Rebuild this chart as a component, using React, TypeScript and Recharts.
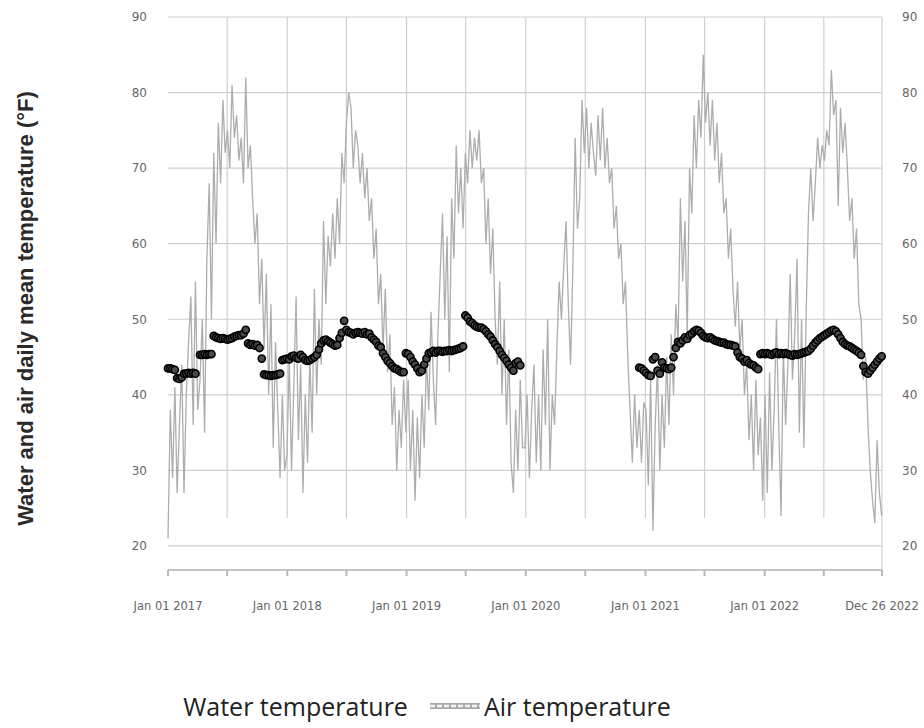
import { ComposedChart, Line, XAxis, YAxis, CartesianGrid, ReferenceLine, Legend } from "recharts"

// air temperature, one reading per week starting Jan 01 2017 (°F)
const air2017 = [21, 38, 29, 41, 27, 36, 44, 27, 40, 47, 53, 36, 55, 38, 42, 50, 35, 58, 68, 50, 72, 60, 76, 68, 79, 72, 75, 70, 81, 74, 77, 71, 74, 68, 82, 70, 73, 66, 60, 64, 52, 58, 46, 56, 40, 52, 33, 47, 38, 29, 40, 30]
const air2018 = [32, 45, 30, 41, 53, 34, 44, 27, 40, 31, 45, 35, 54, 40, 50, 44, 63, 52, 61, 57, 64, 58, 66, 60, 72, 68, 76, 80, 78, 70, 75, 73, 68, 72, 66, 70, 63, 66, 58, 62, 52, 56, 46, 54, 43, 48, 36, 41, 30, 38, 33, 42]
const air2019 = [35, 42, 30, 38, 26, 37, 29, 40, 33, 45, 38, 51, 42, 36, 48, 56, 64, 50, 61, 43, 66, 58, 73, 64, 70, 62, 72, 68, 75, 70, 74, 71, 75, 68, 70, 60, 66, 56, 62, 50, 44, 55, 40, 50, 36, 46, 31, 27, 38, 30, 42, 33]
const air2020 = [33, 40, 29, 38, 44, 31, 40, 30, 46, 36, 50, 30, 40, 36, 46, 55, 50, 57, 63, 52, 44, 57, 74, 62, 66, 79, 72, 78, 70, 76, 72, 69, 77, 71, 78, 70, 74, 68, 70, 62, 65, 58, 60, 52, 55, 45, 38, 31, 40, 33, 38, 31, 39]
const air2021 = [38, 28, 42, 22, 36, 44, 30, 40, 33, 45, 36, 48, 40, 52, 47, 66, 55, 63, 48, 70, 64, 77, 70, 79, 74, 85, 76, 80, 73, 79, 71, 76, 68, 72, 64, 66, 58, 62, 54, 49, 55, 46, 50, 40, 44, 34, 40, 30, 42, 32, 37, 26]
const air2022 = [40, 27, 43, 30, 38, 50, 36, 24, 46, 36, 44, 56, 42, 48, 58, 35, 50, 33, 51, 64, 70, 63, 68, 74, 70, 73, 71, 75, 73, 83, 77, 79, 65, 78, 72, 76, 70, 63, 66, 58, 62, 52, 50, 42, 45, 36, 30, 26, 23, 34, 27, 24]

// water temperature, weekly, two logging periods (week index of first value)
const waterAStartWeek = 0
const waterA = [
  43.5, 43.5, 43.4, 43.3, 42.2, 42.1, 42.3, 42.8, 42.8, 42.9,
  42.8, 42.9, 42.8, null, 45.3, 45.3, 45.4, 45.3, 45.4, 45.4,
  47.8, 47.6, 47.5, 47.4, 47.5, 47.4, 47.3, 47.4, 47.5, 47.7,
  47.8, 47.9, 47.9, 48.1, 48.6, 46.8, 46.6, 46.7, 46.5, 46.6,
  46.2, 44.8, 42.7, 42.6, 42.6, 42.5, 42.6, 42.6, 42.7, 42.8,
  44.6, 44.7, 44.8, 44.7, 45.1, 45.2, 44.9, 44.8, 45.3, 45.0,
  44.6, 44.5, 44.6, 44.8, 45.0, 45.3, 46.0, 46.8, 47.2, 47.3,
  47.1, 46.9, 46.7, 46.5, 46.6, 47.5, 48.2, 49.8, 48.6, 48.3,
  48.2, 48.0, 48.2, 48.3, 48.2, 48.1, 48.3, 48.0, 48.1, 47.6,
  47.3, 47.0, 46.5, 46.3, 45.5, 45.0, 44.5, 44.2, 43.8, 43.5,
  43.4, 43.2, 43.0, 43.0, 45.5, 45.4, 45.0, 44.4, 44.0, 43.5,
  43.0, 43.2, 44.0, 44.8, 45.5, 45.6, 45.8, 45.6, 45.8, 45.8,
  45.7, 45.8, 45.8, 45.9, 45.8, 45.9, 46.0, 46.1, 46.2, 46.4,
  50.5, 50.2, 49.7, 49.5, 49.2, 49.0, 48.9, 48.9, 48.7, 48.4,
  48.0, 47.7, 47.2, 46.7, 46.3, 45.8, 45.3, 44.9, 44.5, 44.0,
  43.6, 43.2, 44.2, 44.4, 43.9,
]
const waterBStartWeek = 206
const waterB = [
  43.6, 43.5, 43.2, 42.9, 42.6, 42.5, 44.7, 45.0, 43.2, 42.8,
  44.3, 43.6, 43.5, 43.4, 43.6, 45.0, 46.2, 47.0, 46.8, 47.2,
  47.6, 47.4, 47.9, 48.1, 48.4, 48.6, 48.5, 48.2, 47.8, 47.6,
  47.5, 47.6, 47.4, 47.2, 47.1, 47.0, 46.9, 46.9, 46.7, 46.6,
  46.6, 46.5, 46.4, 45.6, 45.0, 44.8, 44.4, 44.6, 44.2, 44.0,
  43.9, 43.6, 43.4, 45.4, 45.5, 45.4, 45.5, 45.4, 45.3, 45.5,
  45.6, 45.4, 45.5, 45.4, 45.5, 45.4, 45.3, 45.2, 45.4, 45.3,
  45.4, 45.5, 45.6, 45.7, 45.8, 46.1, 46.5, 46.9, 47.2, 47.5,
  47.7, 47.9, 48.1, 48.3, 48.5, 48.6, 48.4, 48.0, 47.5, 47.0,
  46.7, 46.5, 46.4, 46.2, 46.0, 45.8, 45.6, 45.3, 43.8, 43.0,
  42.8, 43.2, 43.6, 44.0, 44.4, 44.8, 45.1,
]

// days since Jan 01 2017
const halfYearDays = [0, 181, 365, 546, 730, 911, 1095, 1277, 1461, 1642, 1826, 2007, 2185]
const dateLabels: Record<number, string> = {
  0: "Jan 01 2017",
  365: "Jan 01 2018",
  730: "Jan 01 2019",
  1095: "Jan 01 2020",
  1461: "Jan 01 2021",
  1826: "Jan 01 2022",
  2185: "Dec 26 2022",
}
const yTicks = [20, 30, 40, 50, 60, 70, 80, 90]

const STEP_DAYS = 7
const LAST_DAY = 2185
const Y_MIN = 16.82
const GRID_BOTTOM = 23.7

const airTemp = [...air2017, ...air2018, ...air2019, ...air2020, ...air2021, ...air2022]

function waterAt(week: number) {
  const a = week - waterAStartWeek
  if (a >= 0 && a < waterA.length) return waterA[a]
  const b = week - waterBStartWeek
  if (b >= 0 && b < waterB.length) return waterB[b]
  return null
}

const data = airTemp.map((t, i) => ({ day: i * STEP_DAYS, air: t, water: waterAt(i) }))

const tickStyle = { fontSize: 12, fill: "#666", fontFamily: "DejaVu Sans" }

function YTitle(props: any) {
  const vb = props.viewBox || { x: 0, y: 17, width: 168, height: 553 }
  const cx = vb.x + 25
  const cy = vb.y + vb.height / 2 + 15
  return (
    <text
      x={cx}
      y={cy}
      transform={`rotate(-90 ${cx} ${cy})`}
      textAnchor="middle"
      dominantBaseline="central"
      fontFamily="Liberation Sans, Arial, sans-serif"
      fontWeight="bold"
      fontSize={22}
      fill="#2a2a2a"
    >
      Water and air daily mean temperature (°F)
    </text>
  )
}

function TempLegend() {
  return (
    <div
      style={{
        height: 50,
        display: "flex",
        alignItems: "center",
        justifyContent: "center",
        paddingRight: 70,
        paddingTop: 6,
        boxSizing: "border-box",
        fontFamily: "'Open Sans', sans-serif",
        fontSize: 25,
        color: "#222",
      }}
    >
      <span>Water temperature</span>
      <svg width={50} height={10} style={{ margin: "0 4px 0 22px" }}>
        <line x1={0} y1={5} x2={50} y2={5} stroke="#a8a8a8" strokeWidth={6} />
        <line x1={0} y1={5} x2={50} y2={5} stroke="#f2f2f2" strokeWidth={2.5} strokeDasharray="5 2" />
      </svg>
      <span>Air temperature</span>
    </div>
  )
}

export default function App() {
  return (
    <div style={{ position: "absolute", left: 0, top: 0, background: "#fff" }}>
      <ComposedChart width={924} height={728} data={data} margin={{ top: 17, right: 0, bottom: 0, left: 0 }}>
        <CartesianGrid yAxisId="left" vertical={false} stroke="#cfcfcf" strokeWidth={1.2} />
        {halfYearDays.slice(1, -1).map((d) => (
          <ReferenceLine
            key={d}
            yAxisId="left"
            segment={[
              { x: d, y: GRID_BOTTOM },
              { x: d, y: 90 },
            ]}
            stroke="#cfcfcf"
            strokeWidth={1.2}
          />
        ))}
        <ReferenceLine yAxisId="left" x={LAST_DAY} stroke="#cfcfcf" strokeWidth={1.2} />
        <XAxis
          dataKey="day"
          type="number"
          domain={[0, LAST_DAY]}
          ticks={halfYearDays}
          interval={0}
          tickFormatter={(v: number) => dateLabels[v] || ""}
          height={108}
          axisLine={{ stroke: "#c4c4c4", strokeWidth: 2 }}
          tickLine={{ stroke: "#b8b8b8", strokeWidth: 2 }}
          tickSize={6}
          tickMargin={26}
          tick={{ ...tickStyle, fontSize: 11.5 }}
        />
        <YAxis
          yAxisId="left"
          domain={[Y_MIN, 90]}
          ticks={yTicks}
          allowDataOverflow
          width={168}
          axisLine={false}
          tickLine={false}
          tickMargin={15}
          tick={tickStyle}
          label={<YTitle />}
        />
        <YAxis
          yAxisId="right"
          orientation="right"
          domain={[Y_MIN, 90]}
          ticks={yTicks}
          allowDataOverflow
          width={42}
          axisLine={false}
          tickLine={false}
          tickMargin={14}
          tick={tickStyle}
        />
        <Legend verticalAlign="bottom" height={50} content={<TempLegend />} />
        <Line
          yAxisId="left"
          type="linear"
          dataKey="air"
          name="Air temperature"
          stroke="#adadad"
          strokeWidth={1.3}
          dot={false}
          activeDot={false}
          isAnimationActive={false}
        />
        <Line
          yAxisId="left"
          type="linear"
          dataKey="water"
          name="Water temperature"
          stroke="none"
          dot={{ r: 3.6, stroke: "#000", strokeWidth: 1.6, fill: "#4a4a4a" }}
          activeDot={false}
          isAnimationActive={false}
        />
      </ComposedChart>
    </div>
  )
}
